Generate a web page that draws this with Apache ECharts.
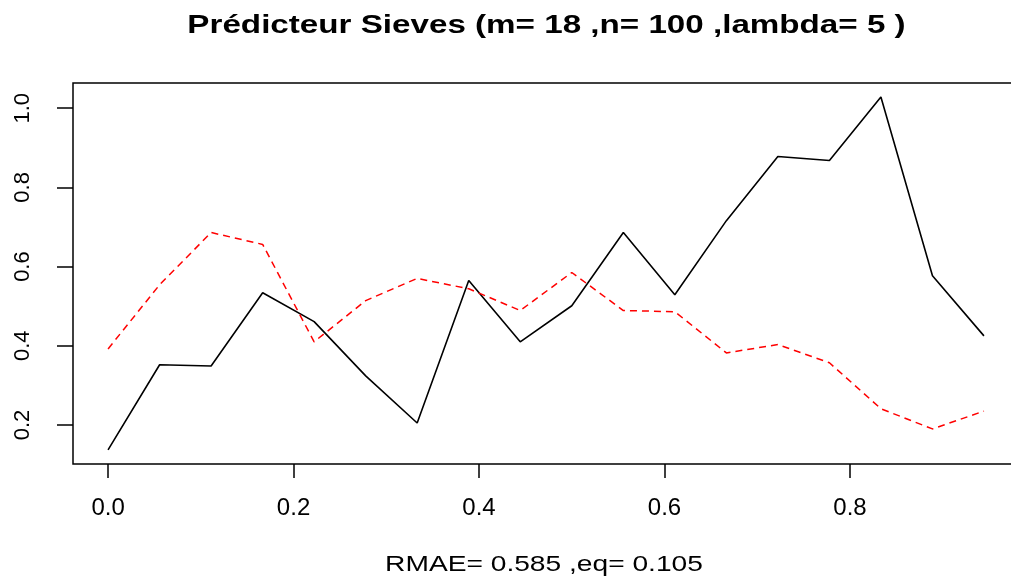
<!DOCTYPE html>
<html>
<head>
    <meta charset="utf-8">
    <title>Prédicteur Sieves</title>
    <script type="text/javascript" src="https://cdn.jsdelivr.net/npm/echarts@6/dist/echarts.min.js"></script>
    <style>
        html, body { margin:0; padding:0; background:#fff; }
        #chart { width:1011px; height:580px; }
    </style>
</head>
<body>
<div id="chart"></div>
<script type="text/javascript">
// grille des x (pas de 1/18)
var xs = [0, 0.0556, 0.1111, 0.1667, 0.2222, 0.2778, 0.3333, 0.3889, 0.4444,
          0.5, 0.5556, 0.6111, 0.6667, 0.7222, 0.7778, 0.8333, 0.8889, 0.9444];
// courbe noire (trait plein)
var vraie = [0.137, 0.352, 0.349, 0.534, 0.461, 0.324, 0.205, 0.565, 0.410,
             0.501, 0.686, 0.529, 0.716, 0.878, 0.868, 1.028, 0.577, 0.425];
// courbe rouge (pointillés) = prédicteur
var predit = [0.392, 0.554, 0.686, 0.656, 0.410, 0.514, 0.570, 0.544, 0.489,
              0.585, 0.489, 0.486, 0.382, 0.403, 0.357, 0.241, 0.190, 0.235];
var xTicks = [0, 0.2, 0.4, 0.6, 0.8];
var yTicks = [0.2, 0.4, 0.6, 0.8, 1.0];
var titre = 'Prédicteur Sieves (m= 18 ,n= 100 ,lambda= 5 )';
var sousTitre = 'RMAE= 0.585 ,eq= 0.105';

function paires(a, b) {
    var out = [];
    for (var i = 0; i < a.length; i++) out.push([a[i], b[i]]);
    return out;
}

var police = '"Liberation Sans", Arial, Helvetica, sans-serif';
var myChart = echarts.init(document.getElementById('chart'), null, {renderer:'canvas'});

myChart.setOption({
    animation: false,
    backgroundColor: '#fff',
    // titres en graphic pour pouvoir les etirer en largeur comme l'image R
    graphic: [{
        type: 'text', x: 546.5, y: 13, scaleX: 1.276,
        style: {text: titre, fill: '#000', font: 'bold 26px ' + police,
                align: 'center', textAlign: 'center', verticalAlign: 'top', textVerticalAlign: 'top'}
    }, {
        type: 'text', x: 544, y: 554, scaleX: 1.28,
        style: {text: sousTitre, fill: '#000', font: '22px ' + police,
                align: 'center', textAlign: 'center', verticalAlign: 'top', textVerticalAlign: 'top'}
    }],
    grid: {
        left: 73, top: 83, width: 946, height: 381,
        outerBoundsMode: 'none', containLabel: false,
        show: true, borderColor: '#000', borderWidth: 1.5, backgroundColor: 'transparent'
    },
    xAxis: {
        type: 'value', min: -0.0378, max: 0.9822,
        axisLine: {show: false, onZero: false},
        splitLine: {show: false},
        axisTick: {show: true, length: 14, customValues: xTicks, lineStyle: {color: '#000', width: 1.5}},
        axisLabel: {
            customValues: xTicks, margin: 32, color: '#000',
            fontFamily: police, fontSize: 24,
            formatter: function (v) { return v.toFixed(1); }
        }
    },
    yAxis: {
        type: 'value', min: 0.1014, max: 1.0636,
        axisLine: {show: false, onZero: false},
        splitLine: {show: false},
        axisTick: {show: true, length: 16, customValues: yTicks, lineStyle: {color: '#000', width: 1.5}},
        axisLabel: {
            customValues: yTicks, margin: 39, rotate: 90, color: '#000',
            fontFamily: police, fontSize: 22,
            formatter: function (v) { return v.toFixed(1); }
        }
    },
    series: [{
        type: 'line', data: paires(xs, vraie), showSymbol: false, symbol: 'none',
        lineStyle: {color: '#000', width: 1.6}
    }, {
        type: 'line', data: paires(xs, predit), showSymbol: false, symbol: 'none',
        lineStyle: {color: '#ff0000', width: 1.5, type: [7, 5]}
    }]
});
</script>
</body>
</html>
